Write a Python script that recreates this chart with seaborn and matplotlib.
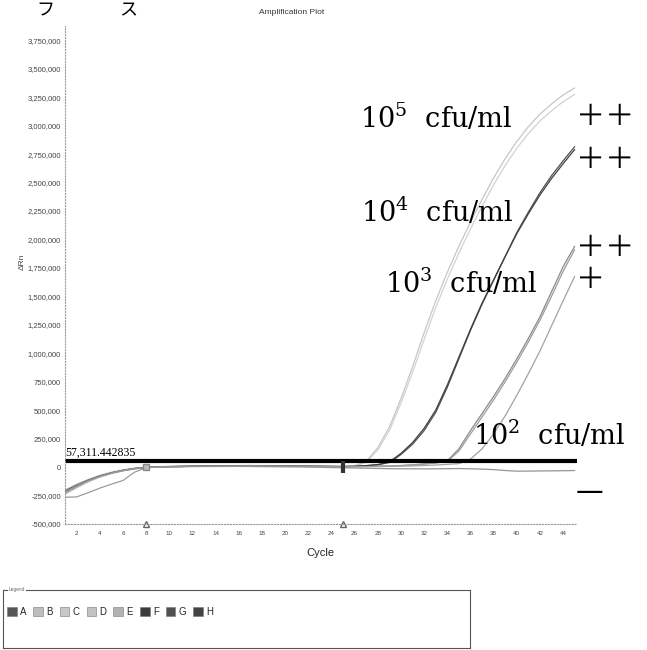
import numpy as np
import pandas as pd
import matplotlib
matplotlib.use("Agg")
import matplotlib.pyplot as plt
from matplotlib.patches import Patch
import seaborn as sns

# values, in thousands of delta Rn
cycles = list(range(1, 46))
samples = ["A", "B", "C", "D", "E", "F", "G", "H"]

drn_A = [-230, -175, -125, -85, -55, -32, -15, -4, 2, 4, 5, 8, 9, 10, 10, 12, 13, 12, 11, 10, 9, 8, 7, 6, 5,
         8, 12, 20, 40, 110, 200, 320, 480, 700, 950, 1200, 1430, 1640, 1850, 2060, 2240, 2410, 2560, 2690, 2815]
drn_B = [-200, -150, -108, -72, -45, -25, -10, -1, 4, 6, 7, 9, 10, 11, 12, 13, 14, 13, 12, 11, 10, 9, 8, 7, 6,
         12, 50, 170, 350, 600, 880, 1180, 1460, 1710, 1940, 2150, 2350, 2540, 2710, 2860, 2990, 3100, 3190, 3270, 3330]
drn_C = [-240, -185, -132, -90, -58, -34, -16, -5, 1, 3, 5, 7, 8, 9, 10, 11, 12, 11, 10, 9, 8, 7, 6, 5, 4,
         10, 42, 150, 320, 560, 830, 1120, 1400, 1650, 1880, 2090, 2290, 2480, 2650, 2800, 2930, 3040, 3130, 3210, 3275]
drn_D = [-220, -168, -120, -82, -52, -30, -13, -3, 2, 4, 6, 8, 9, 10, 11, 12, 12, 11, 10, 9, 8, 7, 6, 5, 4,
         5, 6, 8, 10, 14, 20, 28, 38, 55, 160, 320, 470, 620, 780, 950, 1130, 1320, 1540, 1760, 1940]
drn_E = [-265, -262, -225, -185, -150, -118, -45, -5, 0, 3, 5, 7, 8, 9, 10, 11, 11, 10, 9, 8, 7, 6, 5, 4, 3,
         4, 5, 7, 9, 12, 18, 26, 36, 50, 140, 290, 440, 590, 750, 920, 1100, 1290, 1500, 1720, 1910]
drn_F = [-210, -160, -115, -78, -50, -28, -12, -2, 3, 5, 6, 8, 10, 11, 12, 13, 13, 12, 11, 10, 9, 8, 7, 6, 5,
         8, 13, 22, 45, 120, 215, 340, 500, 720, 965, 1210, 1440, 1645, 1850, 2050, 2225, 2390, 2535, 2665, 2790]
drn_G = [-225, -172, -124, -84, -54, -31, -14, -4, 1, 3, 5, 7, 8, 9, 10, 10, 11, 10, 9, 8, 7, 6, 5, 4, 3,
         3, 4, 5, 6, 8, 10, 14, 18, 24, 30, 70, 160, 290, 450, 630, 820, 1020, 1240, 1460, 1675]
drn_H = [-215, -165, -118, -80, -50, -28, -12, -3, 1, 2, 3, 4, 5, 5, 6, 6, 5, 4, 3, 2, 1, 0, -2, -4, -6,
         -8, -10, -12, -14, -15, -15, -16, -15, -14, -13, -15, -18, -22, -30, -36, -35, -34, -33, -32, -30]

threshold = 57311.442835
baseline_cycles = [8, 25]

curve_colors = {"A": "#505050", "B": "#c6c6c6", "C": "#d2d2d2", "D": "#8a8a8a",
                "E": "#9c9c9c", "F": "#404040", "G": "#a2a2a2", "H": "#959595"}
legend_colors = ["#555555", "#bdbdbd", "#c8c8c8", "#c2c2c2", "#b2b2b2", "#3c3c3c", "#505050", "#444444"]

rows = []
for s, vals in zip(samples, [drn_A, drn_B, drn_C, drn_D, drn_E, drn_F, drn_G, drn_H]):
    for c, v in zip(cycles, vals):
        rows.append({"cycle": c, "drn": v * 1000, "sample": s})
df = pd.DataFrame(rows)

sns.set_style("white")
plt.rcParams["font.family"] = ["Liberation Sans", "DejaVu Sans"]
plt.rcParams["mathtext.fontset"] = "dejavuserif"

W, H = 647, 650
fig = plt.figure(figsize=(W / 100, H / 100), dpi=100)


def px(x, y):
    return x / W, 1 - y / H


ax = fig.add_axes([65 / W, 126 / H, 512 / W, 498 / H])
sns.lineplot(data=df, x="cycle", y="drn", hue="sample", palette=curve_colors,
             linewidth=0.9, legend=False, ax=ax)
ax.axhline(threshold, color="black", lw=3)

ax.set_xlim(1, 45.2)
ax.set_ylim(-500000, 3875000)
ax.set_xticks(range(2, 45, 2))
ax.set_yticks(range(-500000, 3750001, 250000))
ax.set_yticklabels([f"{v:,}" for v in range(-500000, 3750001, 250000)])
ax.tick_params(axis="y", labelsize=5.5, labelcolor="#444444", length=2, color="#999999", pad=1)
ax.tick_params(axis="x", labelsize=4.5, labelcolor="#444444", length=2, color="#999999", pad=3)
ax.set_xlabel("")
ax.set_ylabel("")
for side in ["top", "right"]:
    ax.spines[side].set_visible(False)
for side in ["left", "bottom"]:
    ax.spines[side].set_linestyle(":")
    ax.spines[side].set_color("#999999")
    ax.spines[side].set_linewidth(0.8)

# baseline start / end markers
ax.plot(baseline_cycles[0], 0, marker="s", ms=4, mfc="#bbbbbb", mec="#888888", ls="none")
ax.plot(baseline_cycles[1], 0, marker="|", ms=9, mew=3, color="#333333", ls="none")
ax.plot(baseline_cycles, [-500000, -500000], marker="^", ms=5, mfc="none", mec="#666666",
        ls="none", clip_on=False)

ax.text(1.05, threshold + 15000, "57,311.442835", family="Liberation Serif", fontsize=8.5,
        va="bottom", ha="left", color="black")

fig.text(*px(292, 13), "Amplification Plot", fontsize=6, ha="center", va="center", color="#333333")
fig.text(*px(22, 262), "ΔRn", fontsize=6, rotation=90, ha="center", va="center", color="#444444")
fig.text(*px(320, 553), "Cycle", fontsize=8, ha="center", va="center", color="#222222")

# scan remnants from the page above
cjk = ["Noto Sans CJK JP", "DejaVu Sans"]
fig.text(*px(45, 10), "フ", family=cjk, fontsize=13, ha="center", va="center", color="black")
fig.text(*px(128, 10), "ス", family=cjk, fontsize=13, ha="center", va="center", color="black")

serif = dict(family="DejaVu Serif", fontsize=19.5, ha="left", va="center", color="black")
plus = dict(family=cjk, fontsize=21, ha="left", va="center", color="black")
fig.text(*px(360, 118), r"$10^5$  cfu/ml", **serif)
fig.text(*px(361, 212), r"$10^4$  cfu/ml", **serif)
fig.text(*px(385, 283), r"$10^3$  cfu/ml", **serif)
fig.text(*px(473, 435), r"$10^2$  cfu/ml", **serif)
fig.text(*px(576, 117), "＋＋", **plus)
fig.text(*px(576, 160), "＋＋", **plus)
fig.text(*px(576, 248), "＋＋", **plus)
fig.text(*px(576, 280), "＋", **plus)
fig.text(*px(576, 492), "—", family="DejaVu Sans", fontsize=20, ha="left", va="center", color="black")

# legend panel
lax = fig.add_axes([3 / W, 2 / H, 467 / W, 58 / H])
lax.set_xticks([])
lax.set_yticks([])
for sp in lax.spines.values():
    sp.set_color("#555555")
    sp.set_linewidth(0.8)
lax.text(0.012, 1.0, "Legend", fontsize=3.5, color="#666666", va="center", ha="left",
         transform=lax.transAxes, bbox=dict(fc="white", ec="none", pad=0.5))
handles = [Patch(facecolor=c, edgecolor="#777777", lw=0.4, label=s) for s, c in zip(samples, legend_colors)]
lax.legend(handles=handles, loc="upper left", bbox_to_anchor=(0.0, 0.78), ncol=8, frameon=False,
           fontsize=7, handlelength=1.0, handleheight=1.0, handletextpad=0.35, columnspacing=0.7,
           borderaxespad=0.0)

fig.savefig("out.png", dpi=100)
